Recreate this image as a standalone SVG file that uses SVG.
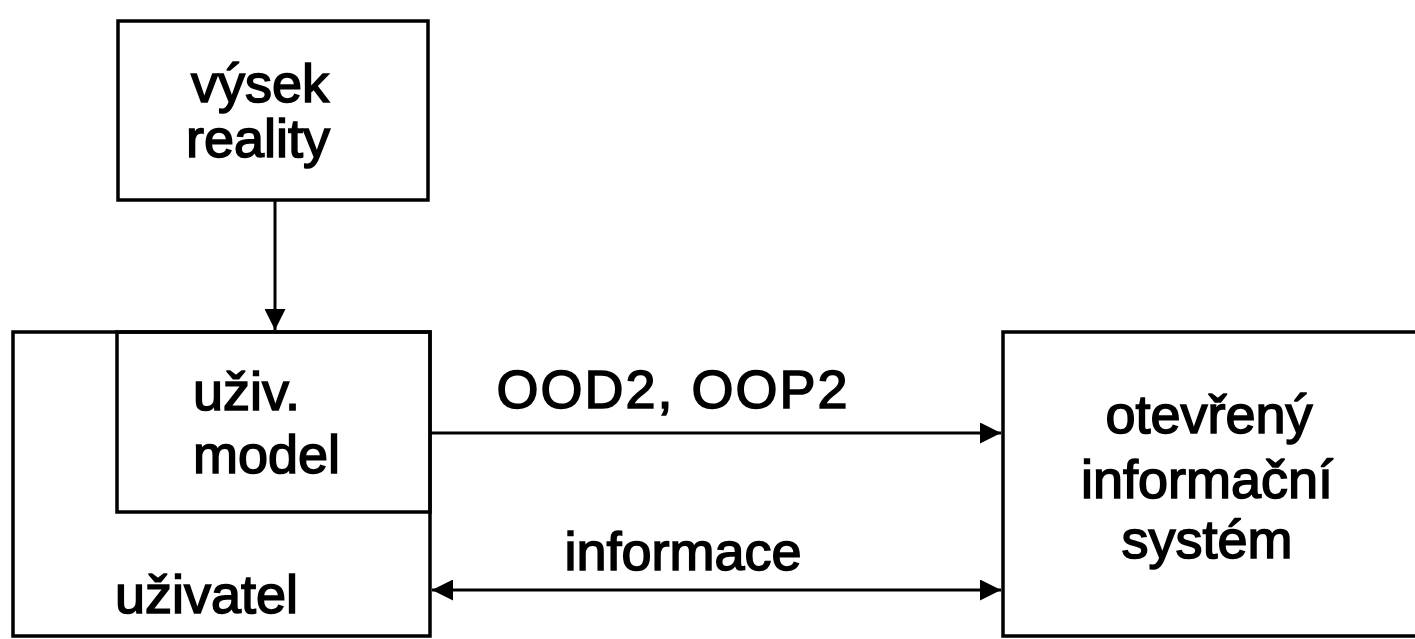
<svg xmlns="http://www.w3.org/2000/svg" width="1415" height="639" viewBox="0 0 1415 639">
<style>
.box{fill:none;stroke:#000;stroke-width:3.5}
.ln{fill:none;stroke:#000;stroke-width:3}
.t{font-family:"Liberation Sans",Arial,sans-serif;font-size:54px;fill:#000;stroke:#000;stroke-width:1.6}
</style>
<defs>
<marker id="ah" viewBox="0 0 10 10" refX="10" refY="5" markerWidth="8" markerHeight="7" markerUnits="strokeWidth" orient="auto-start-reverse">
<path d="M0,0 L10,5 L0,10 z" fill="#000"/>
</marker>
</defs>
<rect width="1415" height="639" fill="#fff"/>
<g id="vysek-reality">
<rect class="box" x="118" y="21" width="310" height="179"/>
<text class="t" x="260" y="102" text-anchor="middle">výsek</text>
<text class="t" x="258" y="157" text-anchor="middle">reality</text>
</g>
<g id="uzivatel">
<rect class="box" x="13" y="332" width="417" height="304"/>
<text class="t" x="115" y="613">uživatel</text>
</g>
<g id="uziv-model">
<rect class="box" x="117" y="332" width="313" height="180"/>
<text class="t" x="193" y="410">uživ.</text>
<text class="t" x="193" y="473">model</text>
</g>
<g id="otevreny-is">
<rect class="box" x="1003" y="332" width="420" height="304"/>
<text class="t" x="1209" y="433" text-anchor="middle">otevřený</text>
<text class="t" x="1207" y="498" text-anchor="middle">informační</text>
<text class="t" x="1207" y="558" text-anchor="middle">systém</text>
</g>
<g id="connectors">
<line class="ln" x1="275" y1="200" x2="275" y2="330" marker-end="url(#ah)"/>
<line class="ln" x1="430" y1="433" x2="1001" y2="433" marker-end="url(#ah)"/>
<line class="ln" x1="432" y1="590" x2="1001" y2="590" marker-start="url(#ah)" marker-end="url(#ah)"/>
<text class="t" x="673" y="408" text-anchor="middle" letter-spacing="2">OOD2, OOP2</text>
<text class="t" x="683" y="570" text-anchor="middle">informace</text>
</g>
</svg>
